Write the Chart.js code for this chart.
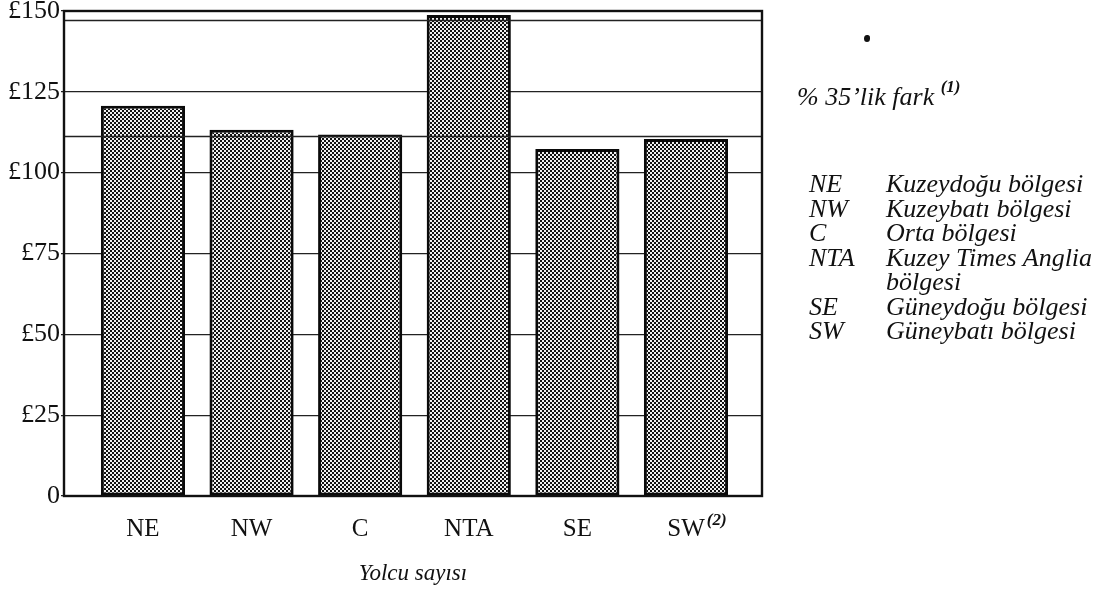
<!DOCTYPE html>
<html>
<head>
<meta charset="utf-8">
<script src="https://cdn.jsdelivr.net/npm/chart.js@4.4.1/dist/chart.umd.min.js"></script>
<style>
  html, body { margin: 0; padding: 0; background: #fff; }
  #wrap { position: relative; width: 1118px; height: 589px; overflow: hidden; }
  #chart { position: absolute; left: 0; top: 0; }
  .note { position: absolute; font-family: "Liberation Serif", serif; font-style: italic; font-size: 26px; color: #111; white-space: nowrap; line-height: 25px; }
  .note sup { font-weight: bold; font-size: 17px; position: relative; top: -3px; }
  .dot { position: absolute; left: 864px; top: 35px; width: 6px; height: 7px; background: #111; border-radius: 50% 40% 50% 50%; }
</style>
</head>
<body>
<div id="wrap">
  <canvas id="chart" width="1118" height="589"></canvas>
  <div class="dot"></div>
  <div class="note" style="left:797px; top:77px;">% 35’lik fark <sup>(1)</sup></div>
  <div id="key"></div>
</div>
<script>
// data
const regions = ['NE', 'NW', 'C', 'NTA', 'SE', 'SW'];
const fares = [120.7, 113.3, 111.8, 148.8, 107.3, 110.4];
const yTicks = [0, 25, 50, 75, 100, 125, 150];
const rangeLines = [147.2, 111.4];   // the two thin lines showing the 35% gap
const keyCodes = ['NE', 'NW', 'C', 'NTA', '', 'SE', 'SW'];
const keyNames = ['Kuzeydoğu bölgesi', 'Kuzeybatı bölgesi', 'Orta bölgesi', 'Kuzey Times Anglia', 'bölgesi', 'Güneydoğu bölgesi', 'Güneybatı bölgesi'];

// side key
const key = document.getElementById('key');
keyCodes.forEach((code, i) => {
  const top = 171 + i * 24.5;
  key.insertAdjacentHTML('beforeend',
    '<div class="note" style="left:809px; top:' + top + 'px;">' + code + '</div>' +
    '<div class="note" style="left:886px; top:' + top + 'px;">' + keyNames[i] + '</div>');
});

const canvas = document.getElementById('chart');
const ctx = canvas.getContext('2d');

// fine checker fill like the screened bars
const pc = document.createElement('canvas');
pc.width = 4; pc.height = 4;
const p = pc.getContext('2d');
p.fillStyle = '#f0f0f0';
p.fillRect(0, 0, 4, 4);
p.fillStyle = '#111';
p.fillRect(0, 0, 2, 2);
p.fillRect(2, 2, 2, 2);
const checker = ctx.createPattern(pc, 'repeat');

const serif = '"Liberation Serif", "Times New Roman", serif';

const framePlugin = {
  id: 'frame',
  afterDatasetsDraw(chart) {
    const { ctx, chartArea: a, scales } = chart;
    ctx.save();
    ctx.strokeStyle = '#222';
    ctx.lineWidth = 1.3;
    rangeLines.forEach(v => {
      const y = Math.round(scales.y.getPixelForValue(v)) + 0.5;
      ctx.beginPath();
      ctx.moveTo(a.left, y);
      ctx.lineTo(a.right, y);
      ctx.stroke();
    });
    ctx.strokeStyle = '#111';
    ctx.lineWidth = 2.4;
    ctx.strokeRect(a.left, a.top, a.right - a.left, a.bottom - a.top);
    ctx.restore();
  },
  afterDraw(chart) {
    const { ctx, scales } = chart;
    ctx.save();
    ctx.font = '25px ' + serif;
    const w = ctx.measureText(regions[5]).width;
    const x = scales.x.getPixelForValue(5) + w / 2 + 2;
    ctx.font = 'italic bold 17px ' + serif;
    ctx.fillStyle = '#111';
    ctx.textBaseline = 'top';
    ctx.fillText('(2)', x, 512);
    ctx.restore();
  }
};

new Chart(canvas, {
  type: 'bar',
  data: {
    datasets: [{
      data: regions.map((r, i) => ({ x: i, y: fares[i] })),
      backgroundColor: checker,
      borderColor: '#0a0a0a',
      borderWidth: 3,
      borderSkipped: false,
      categoryPercentage: 1,
      barPercentage: 0.775
    }]
  },
  options: {
    responsive: false,
    animation: false,
    layout: { padding: { top: 11, right: 356, left: 0, bottom: 0 } },
    plugins: { legend: { display: false }, tooltip: { enabled: false } },
    scales: {
      x: {
        type: 'linear',
        min: -0.727,
        max: 5.70,
        offset: false,
        afterBuildTicks: axis => { axis.ticks = regions.map((r, i) => ({ value: i })); },
        afterFit: s => { s.height = 93; s.paddingLeft = 0; s.paddingRight = 0; },
        grid: { display: false, drawTicks: false },
        border: { display: true, color: '#111', width: 2 },
        ticks: {
          padding: 18,
          color: '#111',
          font: { family: serif, size: 25 },
          callback: (v, i) => regions[i]
        },
        title: {
          display: true,
          text: 'Yolcu sayısı',
          color: '#111',
          padding: { top: 12, bottom: 1 },
          font: { family: serif, size: 23, style: 'italic' }
        }
      },
      y: {
        min: 0,
        max: 150,
        afterBuildTicks: axis => { axis.ticks = yTicks.map(v => ({ value: v })); },
        afterFit: s => { s.width = 64; s.paddingTop = 0; s.paddingBottom = 0; },
        grid: { color: '#222', lineWidth: 1.2, tickLength: 3 },
        border: { display: true, color: '#111', width: 2 },
        ticks: {
          padding: 1,
          color: '#111',
          font: { family: serif, size: 26 },
          callback: v => v === 0 ? '0' : '£' + v
        }
      }
    }
  },
  plugins: [framePlugin]
});
</script>
</body>
</html>
